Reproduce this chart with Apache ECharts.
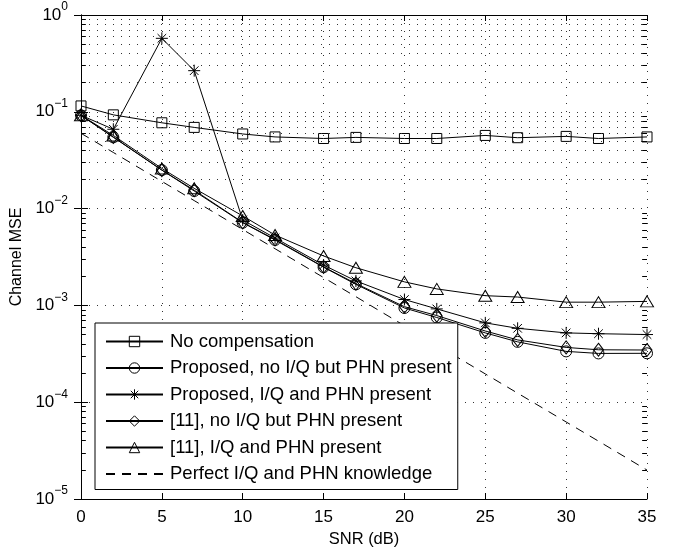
<!DOCTYPE html>
<html>
<head>
<meta charset="utf-8">
<script src="https://cdn.jsdelivr.net/npm/echarts@6/dist/echarts.min.js"></script>
<style>
html, body { margin: 0; padding: 0; background: #fff; }
#chart { width: 685px; height: 548px; }
</style>
</head>
<body>
<div id="chart"></div>
<script>
// SNR points (dB)
const snr = [0, 2, 5, 7, 10, 12, 15, 17, 20, 22, 25, 27, 30, 32, 35]
// channel MSE
const noComp = [0.115, 0.093, 0.077, 0.069, 0.059, 0.055, 0.053, 0.0544, 0.053, 0.053, 0.057, 0.054, 0.0557, 0.053, 0.055]
const propNoIQ = [0.092, 0.0545, 0.025, 0.0152, 0.00715, 0.00474, 0.00248, 0.00165, 0.00094, 0.00075, 0.00052, 0.00042, 0.000335, 0.000319, 0.00032]
const propIQ = [0.092, 0.066, 0.574, 0.266, 0.00762, 0.00497, 0.00261, 0.00179, 0.00115, 0.00092, 0.00066, 0.00058, 0.00052, 0.00051, 0.0005]
const refNoIQ = [0.092, 0.055, 0.025, 0.0155, 0.0072, 0.0048, 0.0025, 0.00168, 0.00097, 0.000785, 0.000544, 0.00044, 0.000368, 0.000348, 0.000346]
const refIQ = [0.092, 0.057, 0.026, 0.0162, 0.0084, 0.00533, 0.00324, 0.00245, 0.00175, 0.00148, 0.00126, 0.00122, 0.00108, 0.00108, 0.0011]
const perfect = [0.06, 0.038, 0.0191, 0.0121, 0.00608, 0.00385, 0.00194, 0.00123, 0.000617, 0.00039, 0.000196, 0.000124, 0.0000625, 0.0000396, 0.0000199]

const seriesNames = [
    'No compensation',
    'Proposed, no I/Q but PHN present',
    'Proposed, I/Q and PHN present',
    '[11], no I/Q but PHN present',
    '[11], I/Q and PHN present',
    'Perfect I/Q and PHN knowledge'
]

// decades and minor multipliers for the log grid
const decades = [0.00001, 0.0001, 0.001, 0.01, 0.1]
const minorSteps = [2, 3, 4, 5, 6, 7, 8, 9]

const FONT = '"Liberation Sans", Arial, sans-serif'
const chart = echarts.init(document.getElementById('chart'))

function pairs (vals) {
    return snr.map((x, i) => [x, vals[i]])
}

function decadeLabel (v) {
    const e = Math.round(Math.log10(v))
    return '{b|10}{s|' + (e < 0 ? '\u2212' + (-e) : e) + '}'
}

const markerStyle = { color: 'none', borderColor: '#000', borderWidth: 1 }

function lineSeries (name, vals, symbol, size) {
    return {
        name: name,
        type: 'line',
        data: pairs(vals),
        symbol: symbol,
        symbolSize: size,
        showSymbol: true,
        animation: false,
        lineStyle: { color: '#000', width: 1 },
        itemStyle: markerStyle,
        emphasis: { disabled: true }
    }
}

const minorVals = []
decades.forEach(d => minorSteps.forEach(m => minorVals.push(d * m)))

// dotted minor grid lines + short minor ticks on both sides
const gridMarks = minorVals.map(v => ({ yAxis: v }))
const tickMarks = []
minorVals.forEach(v => {
    tickMarks.push([{ coord: [0, v], lineStyle: { type: 'solid', color: '#000' } }, { coord: [0.3, v] }])
    tickMarks.push([{ coord: [34.7, v], lineStyle: { type: 'solid', color: '#000' } }, { coord: [35, v] }])
})

const starPath = 'path://M0,-6L0,6M-6,0L6,0M-4.3,-4.3L4.3,4.3M-4.3,4.3L4.3,-4.3'

const axisText = { fontSize: 17, fontFamily: FONT, color: '#000' }
const nameText = { fontSize: 16.5, fontFamily: FONT, color: '#000' }

const option = {
    animation: false,
    backgroundColor: '#fff',
    grid: { left: 81, right: 38, top: 15, bottom: 49, outerBoundsMode: 'none', containLabel: false },
    legend: {
        data: seriesNames,
        orient: 'vertical',
        left: 95,
        top: 323,
        padding: [9, 6, 6, 10],
        itemGap: 7.5,
        itemWidth: 57,
        itemHeight: 13,
        backgroundColor: '#fff',
        borderColor: '#000',
        borderWidth: 1,
        selectedMode: false,
        itemStyle: { borderWidth: 1 },
        textStyle: { fontSize: 18.5, fontFamily: FONT, color: '#000', padding: [0, 0, 0, 2] }
    },
    xAxis: [
        {
            type: 'value',
            min: 0,
            max: 35,
            interval: 5,
            name: 'SNR (dB)',
            nameLocation: 'middle',
            nameGap: 31,
            nameTextStyle: nameText,
            axisLine: { lineStyle: { color: '#000', width: 1 } },
            axisTick: { inside: true, length: 6, lineStyle: { color: '#000' } },
            axisLabel: Object.assign({ margin: 10 }, axisText),
            splitLine: { show: true, lineStyle: { color: '#333', type: [1, 7], width: 1 } }
        },
        {
            type: 'value',
            position: 'top',
            min: 0,
            max: 35,
            interval: 5,
            axisLine: { lineStyle: { color: '#000', width: 1 } },
            axisTick: { inside: true, length: 6, lineStyle: { color: '#000' } },
            axisLabel: { show: false },
            splitLine: { show: false }
        }
    ],
    yAxis: [
        {
            type: 'log',
            logBase: 10,
            min: 0.00001,
            max: 1,
            name: 'Channel MSE',
            nameLocation: 'middle',
            nameGap: 45,
            nameTextStyle: { fontSize: 16, fontFamily: FONT, color: '#000' },
            axisLine: { show: true, lineStyle: { color: '#000', width: 1 } },
            axisTick: { show: true, inside: true, length: 7, lineStyle: { color: '#000' } },
            axisLabel: {
                margin: 13,
                formatter: decadeLabel,
                rich: {
                    b: { fontSize: 17, fontFamily: FONT, color: '#000' },
                    s: { fontSize: 12, fontFamily: FONT, color: '#000', padding: [0, 0, 16, 0] }
                }
            },
            splitLine: { show: true, lineStyle: { color: '#333', type: [1, 7], width: 1 } }
        },
        {
            type: 'log',
            logBase: 10,
            min: 0.00001,
            max: 1,
            position: 'right',
            axisLine: { show: true, lineStyle: { color: '#000', width: 1 } },
            axisTick: { show: true, inside: true, length: 7, lineStyle: { color: '#000' } },
            axisLabel: { show: false },
            splitLine: { show: false }
        }
    ],
    series: [
        {
            name: 'grid',
            type: 'line',
            data: [],
            z: 1,
            silent: true,
            markLine: {
                silent: true,
                symbol: 'none',
                animation: false,
                label: { show: false },
                emphasis: { disabled: true },
                lineStyle: { color: '#333', type: [1, 7], width: 1 },
                data: gridMarks.concat(tickMarks)
            }
        },
        lineSeries(seriesNames[0], noComp, 'rect', 10),
        lineSeries(seriesNames[1], propNoIQ, 'circle', 11),
        lineSeries(seriesNames[2], propIQ, starPath, 12),
        lineSeries(seriesNames[3], refNoIQ, 'diamond', [10, 13]),
        lineSeries(seriesNames[4], refIQ, 'triangle', [13, 11]),
        {
            name: seriesNames[5],
            type: 'line',
            data: pairs(perfect),
            symbol: 'circle',
            showSymbol: false,
            animation: false,
            lineStyle: { color: '#000', width: 1, type: [9, 7] },
            itemStyle: { color: 'none', borderColor: 'none', borderWidth: 0 },
            emphasis: { disabled: true }
        }
    ]
}

chart.setOption(option)
</script>
</body>
</html>
